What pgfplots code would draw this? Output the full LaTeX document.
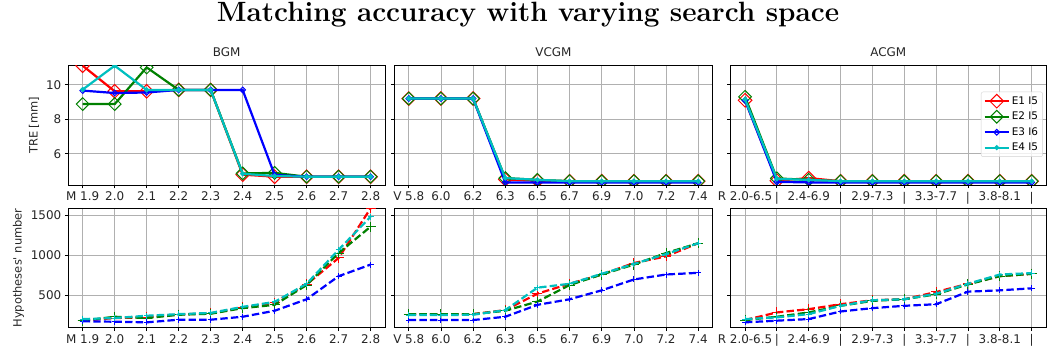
\documentclass[border=0pt]{standalone}
\usepackage{fontspec}
\usepackage{pgfplots}
\pgfplotsset{compat=1.18}
\newfontfamily\dejavu{DejaVu Sans}
\definecolor{mR}{rgb}{1,0,0}
\definecolor{mG}{rgb}{0,0.5,0}
\definecolor{mB}{rgb}{0,0,1}
\definecolor{mC}{rgb}{0,0.75,0.75}
\definecolor{gridc}{HTML}{B0B0B0}
\pgfplotsset{
  base/.style={
    scale only axis, anchor=south west,
    xmin=-0.45, xmax=9.45,
    xtick={0,...,9},
    grid=major, grid style={gridc, line width=0.8bp},
    axis line style={black, line width=0.8bp},
    tick align=outside, xtick pos=bottom, ytick pos=left,
    major tick length=3.5bp, tick style={black, line width=0.8bp},
    tick label style={font=\dejavu\fontsize{12}{14}\selectfont, text=black!85},
    label style={font=\dejavu\fontsize{11.5}{13}\selectfont, text=black!85},
    title style={font=\dejavu\fontsize{12}{14}\selectfont, text=black!85, yshift=0bp},
    clip marker paths=true,
  },
  toprow/.style={base, height=119.3bp, ymin=4.2, ymax=11.1, ytick={6,8,10}},
  botrow/.style={base, height=119.4bp, ymin=90, ymax=1585, ytick={500,1000,1500}},
  e1t/.style={mR, line width=2.2bp, mark=square, mark size=4.8bp, mark options={rotate=45, line width=1bp, fill=none}},
  e2t/.style={mG, line width=2.2bp, mark=square, mark size=4.5bp, mark options={rotate=45, line width=1bp, fill=none}},
  e3t/.style={mB, line width=2.2bp, mark=square, mark size=2bp, mark options={rotate=45, line width=1bp, fill=mB!30}},
  e4t/.style={mC, line width=2.2bp, mark=*, mark size=1.3bp},
  e1b/.style={mR, line width=2.2bp, dash pattern=on 7.4bp off 3.2bp, mark=+, mark size=5bp, mark options={solid, line width=1bp}},
  e2b/.style={mG, line width=2.2bp, dash pattern=on 7.4bp off 3.2bp, mark=+, mark size=5bp, mark options={solid, line width=1bp}},
  e3b/.style={mB, line width=2.2bp, dash pattern=on 7.4bp off 3.2bp, mark=+, mark size=3bp, mark options={solid, line width=1bp}},
  e4b/.style={mC, line width=2.2bp, dash pattern=on 7.4bp off 3.2bp, mark=+, mark size=3bp, mark options={solid, line width=1bp}},
}
\begin{document}
\begin{tikzpicture}
\useasboundingbox (0,0) rectangle (1051bp,356bp);
\node[anchor=base, font=\fontsize{28}{34}\selectfont\bfseries] at (528bp,334bp) {Matching accuracy with varying search space};

% ---------- top row ----------
\begin{axis}[toprow, at={(68.3bp,171bp)}, width=316.7bp, title={BGM},
  yticklabels={6,8,10}, ylabel={TRE [mm]},
  xticklabels={M 1.9,2.0,2.1,2.2,2.3,2.4,2.5,2.6,2.7,2.8}]
\addplot[e1t] coordinates {(0,11.1)(1,9.62)(2,9.62)(3,9.7)(4,9.7)(5,4.8)(6,4.68)(7,4.68)(8,4.68)(9,4.68)};
\addplot[e2t] coordinates {(0,8.88)(1,8.88)(2,11.0)(3,9.7)(4,9.7)(5,4.87)(6,4.9)(7,4.68)(8,4.68)(9,4.68)};
\addplot[e3t] coordinates {(0,9.66)(1,9.52)(2,9.55)(3,9.7)(4,9.7)(5,9.7)(6,4.78)(7,4.68)(8,4.68)(9,4.68)};
\addplot[e4t] coordinates {(0,9.72)(1,11.1)(2,9.7)(3,9.7)(4,9.7)(5,4.85)(6,4.72)(7,4.68)(8,4.68)(9,4.68)};
\end{axis}

\begin{axis}[toprow, at={(394.3bp,171bp)}, width=318.4bp, title={VCGM},
  yticklabels={,,},
  xticklabels={V 5.8,6.0,6.2,6.3,6.5,6.7,6.9,7.0,7.2,7.4}]
\addplot[e1t] coordinates {(0,9.2)(1,9.2)(2,9.2)(3,4.52)(4,4.45)(5,4.42)(6,4.42)(7,4.42)(8,4.42)(9,4.42)};
\addplot[e2t] coordinates {(0,9.2)(1,9.2)(2,9.2)(3,4.6)(4,4.5)(5,4.42)(6,4.42)(7,4.42)(8,4.42)(9,4.42)};
\addplot[e3t] coordinates {(0,9.2)(1,9.2)(2,9.2)(3,4.35)(4,4.35)(5,4.35)(6,4.35)(7,4.35)(8,4.35)(9,4.35)};
\addplot[e4t] coordinates {(0,9.2)(1,9.2)(2,9.2)(3,4.6)(4,4.5)(5,4.42)(6,4.42)(7,4.42)(8,4.42)(9,4.42)};
\end{axis}

\begin{axis}[toprow, at={(730.7bp,171bp)}, width=315.3bp, title={ACGM},
  yticklabels={,,},
  xticklabels={R 2.0-6.5,|,2.4-6.9,|,2.9-7.3,|,3.3-7.7,|,3.8-8.1,|},
  legend style={at={(0.99,0.782)}, anchor=north east, font=\dejavu\fontsize{10.5}{12}\selectfont,
    draw=gray!35, rounded corners=2bp, fill=white, fill opacity=0.8, text opacity=1,
    inner sep=2.5bp, row sep=2.2bp},
  legend cell align=left,
  legend image code/.code={\draw[mark repeat=2,mark phase=2,#1] plot coordinates {(0bp,0bp) (12bp,0bp) (24bp,0bp)};}]
\addplot[e1t] coordinates {(0,9.1)(1,4.45)(2,4.6)(3,4.42)(4,4.42)(5,4.42)(6,4.42)(7,4.42)(8,4.42)(9,4.42)};
\addlegendentry{E1 I5}
\addplot[e2t] coordinates {(0,9.3)(1,4.58)(2,4.5)(3,4.42)(4,4.42)(5,4.42)(6,4.42)(7,4.42)(8,4.42)(9,4.42)};
\addlegendentry{E2 I5}
\addplot[e3t] coordinates {(0,9.1)(1,4.38)(2,4.35)(3,4.35)(4,4.35)(5,4.35)(6,4.35)(7,4.35)(8,4.35)(9,4.35)};
\addlegendentry{E3 I6}
\addplot[e4t] coordinates {(0,9.15)(1,4.55)(2,4.5)(3,4.42)(4,4.42)(5,4.42)(6,4.42)(7,4.42)(8,4.42)(9,4.42)};
\addlegendentry{E4 I5}
\end{axis}

% ---------- bottom row ----------
\begin{axis}[botrow, at={(68.3bp,28.3bp)}, width=316.7bp,
  yticklabels={500,1000,1500}, ylabel={Hypotheses' number},
  xticklabels={M 1.9,2.0,2.1,2.2,2.3,2.4,2.5,2.6,2.7,2.8}]
\addplot[e1b] coordinates {(0,178)(1,211)(2,219)(3,255)(4,270)(5,343)(6,405)(7,632)(8,963)(9,1585)};
\addplot[e2b] coordinates {(0,178)(1,227)(2,211)(3,252)(4,265)(5,335)(6,376)(7,624)(8,1025)(9,1355)};
\addplot[e3b] coordinates {(0,170)(1,165)(2,157)(3,190)(4,190)(5,227)(6,302)(7,446)(8,735)(9,880)};
\addplot[e4b] coordinates {(0,198)(1,211)(2,240)(3,260)(4,275)(5,351)(6,413)(7,640)(8,1066)(9,1479)};
\end{axis}

\begin{axis}[botrow, at={(394.3bp,28.3bp)}, width=318.4bp,
  yticklabels={,,},
  xticklabels={V 5.8,6.0,6.2,6.3,6.5,6.7,6.9,7.0,7.2,7.4}]
\addplot[e1b] coordinates {(0,260)(1,260)(2,260)(3,310)(4,516)(5,640)(6,756)(7,900)(8,983)(9,1148)};
\addplot[e2b] coordinates {(0,260)(1,260)(2,260)(3,302)(4,417)(5,624)(6,756)(7,880)(8,1025)(9,1148)};
\addplot[e3b] coordinates {(0,186)(1,186)(2,186)(3,227)(4,376)(5,446)(6,558)(7,694)(8,756)(9,777)};
\addplot[e4b] coordinates {(0,248)(1,248)(2,252)(3,310)(4,591)(5,640)(6,765)(7,888)(8,1012)(9,1148)};
\end{axis}

\begin{axis}[botrow, at={(730.7bp,28.3bp)}, width=315.3bp,
  yticklabels={,,},
  xticklabels={R 2.0-6.5,|,2.4-6.9,|,2.9-7.3,|,3.3-7.7,|,3.8-8.1,|}]
\addplot[e1b] coordinates {(0,186)(1,281)(2,322)(3,384)(4,434)(5,446)(6,537)(7,640)(8,735)(9,764)};
\addplot[e2b] coordinates {(0,186)(1,227)(2,281)(3,364)(4,426)(5,446)(6,508)(7,632)(8,735)(9,764)};
\addplot[e3b] coordinates {(0,157)(1,178)(2,198)(3,293)(4,335)(5,364)(6,384)(7,541)(8,558)(9,583)};
\addplot[e4b] coordinates {(0,198)(1,219)(2,260)(3,364)(4,434)(5,446)(6,516)(7,640)(8,756)(9,773)};
\end{axis}
\end{tikzpicture}
\end{document}
